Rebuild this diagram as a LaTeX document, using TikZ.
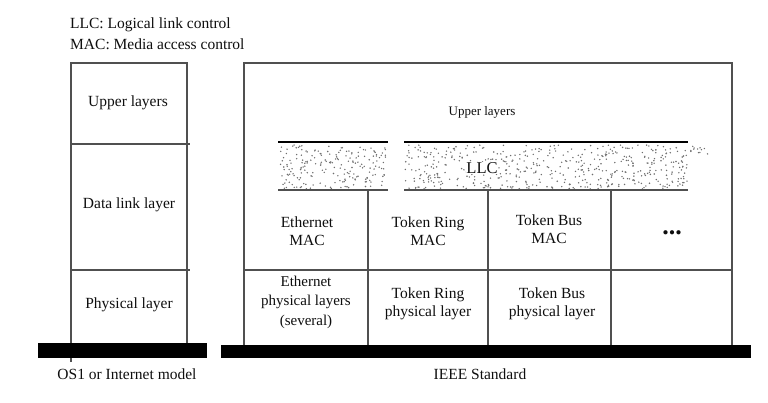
\documentclass[tikz,border=0pt]{standalone}
\usepackage{fontspec}
\setmainfont{Liberation Serif}
\definecolor{lanLine}{HTML}{505050}
\definecolor{lanText}{HTML}{0E0E0E}
\definecolor{lanDots}{HTML}{6E6E6E}
\tikzset{
  lan frame/.style={draw=lanLine, line width=1.5pt},
  lan bar/.style={fill=black},
  lan dot/.style={fill=lanDots},
  lan label/.style={font=\fontsize{15.5}{18}\selectfont, text=lanText, align=center, inner sep=0pt},
  lan small label/.style={font=\fontsize{13}{15}\selectfont, text=lanText, align=center, inner sep=0pt},
}

\begin{document}
\begin{tikzpicture}[x=1pt, y=-1pt]
  \useasboundingbox (0,0) rectangle (768,403);

  % Legend
  \node[lan label, anchor=west] (hdrLlc) at (70,25) {LLC: Logical link control};
  \node[lan label, anchor=west] (hdrMac) at (70,44) {MAC: Media access control};

  % OSI stack
  \draw[lan frame] (71,362) -- (71,63) -- (187,63) -- (187,343);
  \draw[lan frame] (71,144) -- (190,144);
  \draw[lan frame] (71,270) -- (190,270);
  \fill[lan bar] (38,343) rectangle (207,358);

  \node[lan label] (osiUpper) at (128,103) {Upper layers};
  \node[lan label] (osiData) at (129,205) {Data link layer};
  \node[lan label] (osiPhys) at (129,305) {Physical layer};
  \node[lan label] (osiCaption) at (127,374) {OS1 or Internet model};

  % IEEE stack
  \draw[lan frame] (244,345) -- (244,63) -- (732,63) -- (732,345);
  \foreach \x in {368,488,611} {
    \draw[lan frame] (\x,190) -- (\x,345);
  }
  \draw[lan frame] (244,270) -- (732,270);

  % LLC band (stippled)
  \pgfmathsetseed{42}
  \foreach \i in {1,...,200} {
    \fill[lan dot] ({279+108*rnd},{145+44*rnd}) circle (0.8);
  }
  \foreach \i in {1,...,500} {
    \fill[lan dot] ({405+282*rnd},{145+44*rnd}) circle (0.8);
  }
  \foreach \i in {1,...,12} {
    \fill[lan dot] ({690+18*rnd},{145+10*rnd}) circle (0.8);
  }
  \draw[lan frame, draw=black] (278,142) -- (388,142);
  \draw[lan frame, draw=black] (404,142) -- (688,142);
  \draw[lan frame] (278,190) -- (388,190);
  \draw[lan frame] (404,190) -- (688,190);
  \fill[lan bar] (221,345) rectangle (751,358);

  \node[lan small label] (ieeeUpper) at (482,112) {Upper layers};
  \node[lan label, fill=white, inner sep=0.5pt, font=\fontsize{16.5}{18}\selectfont] (ieeeLlc) at (482,168) {LLC};

  % MAC row
  \node[lan label] (ethMac) at (307,231) {Ethernet\\MAC};
  \node[lan label] (trMac) at (428,231) {Token Ring\\MAC};
  \node[lan label] (tbMac) at (549,229) {Token Bus\\MAC};
  \node[lan label, font=\fontsize{26}{26}\bfseries, anchor=base] (moreMac) at (672,235) {...};

  % Physical row
  \node[lan label, font=\fontsize{15}{19.5}\selectfont] (ethPhy) at (306,302) {Ethernet\\physical layers\\(several)};
  \node[lan label] (trPhy) at (428,304) {Token Ring\\physical layer};
  \node[lan label] (tbPhy) at (552,304) {Token Bus\\physical layer};
  \node[lan label] (ieeeCaption) at (480,374) {IEEE Standard};
\end{tikzpicture}
\end{document}
